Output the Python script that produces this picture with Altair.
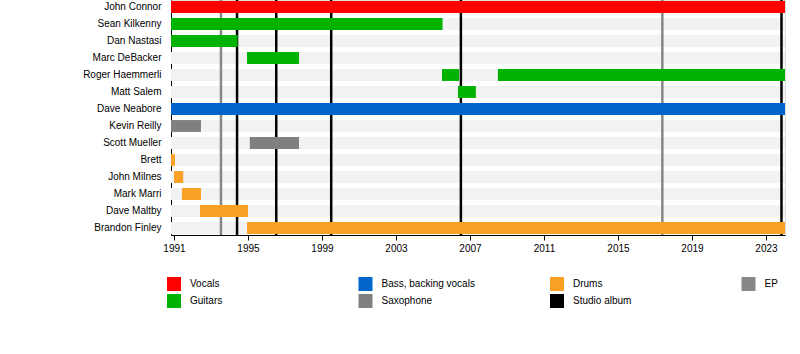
import altair as alt
import pandas as pd

# ---- data ----
members = ["John Connor", "Sean Kilkenny", "Dan Nastasi", "Marc DeBacker",
           "Roger Haemmerli", "Matt Salem", "Dave Neabore", "Kevin Reilly",
           "Scott Mueller", "Brett", "John Milnes", "Mark Marri",
           "Dave Maltby", "Brandon Finley"]

x_start, x_end = 1990.84, 2024.03

seg_member = ["John Connor", "Sean Kilkenny", "Dan Nastasi", "Marc DeBacker",
              "Roger Haemmerli", "Roger Haemmerli", "Matt Salem", "Dave Neabore",
              "Kevin Reilly", "Scott Mueller", "Brett", "John Milnes",
              "Mark Marri", "Dave Maltby", "Brandon Finley"]
seg_start = [1990.84, 1990.84, 1990.84, 1994.95, 2005.49, 2008.51, 2006.35,
             1990.84, 1990.84, 1995.10, 1990.84, 1991.00, 1991.43, 1992.41, 1994.95]
seg_end = [2024.03, 2005.52, 1994.44, 1997.76, 2006.41, 2024.03, 2007.32,
           2024.03, 1992.46, 1997.76, 1991.05, 1991.50, 1992.46, 1995.00, 2024.03]
seg_role = ["Vocals", "Guitars", "Guitars", "Guitars", "Guitars", "Guitars",
            "Guitars", "Bass, backing vocals", "Saxophone", "Saxophone",
            "Drums", "Drums", "Drums", "Drums", "Drums"]

event_year = [1993.54, 1994.41, 1996.53, 1999.50, 2006.51, 2017.40, 2023.84]
event_kind = ["EP", "Studio album", "Studio album", "Studio album",
              "Studio album", "EP", "Studio album"]

tick_years = list(range(1991, 2025))

legend_order = ["Vocals", "Guitars", "Bass, backing vocals", "Saxophone",
                "Drums", "Studio album", "EP"]
legend_colors = ["#ff0000", "#00b300", "#0066cc", "#808080",
                 "#faa025", "#000000", "#878787"]

# ---- tables ----
segs = pd.DataFrame({"member": seg_member, "start": seg_start,
                     "end": seg_end, "role": seg_role})
stripes = pd.DataFrame({"member": members, "start": x_start, "end": x_end})
events = pd.DataFrame({"year": event_year, "kind": event_kind})

FONT = "Liberation Sans"

xscale = alt.Scale(domain=[x_start, x_end], nice=False, zero=False)
yscale = alt.Scale(paddingInner=0.3, paddingOuter=0.06)

xaxis = alt.Axis(values=tick_years, title=None, grid=False,
                 labelExpr="datum.value % 4 == 3 ? datum.value : ''",
                 tickSize={"condition": {"test": "datum.value % 4 == 3", "value": 5}, "value": 3},
                 labelFlush=False, labelOverlap=False, labelPadding=3,
                 domainColor="black", tickColor="black", labelColor="black",
                 labelFont=FONT, labelFontSize=10)
yaxis = alt.Axis(title=None, ticks=False, tickSize=0, labelPadding=10,
                 domainColor="black", labelColor="black",
                 labelFont=FONT, labelFontSize=10, labelLimit=200)

stripe_layer = alt.Chart(stripes).mark_bar(color="#f2f2f2").encode(
    x=alt.X("start:Q", scale=xscale, axis=xaxis),
    x2="end:Q",
    y=alt.Y("member:N", sort=members, scale=yscale, axis=yaxis),
)

rule_layer = alt.Chart(events).mark_rule(strokeWidth=2.5).encode(
    x=alt.X("year:Q", scale=xscale),
    stroke=alt.Stroke("kind:N", scale=alt.Scale(domain=["EP", "Studio album"],
                                                range=["#878787", "#000000"]),
                      legend=None),
)

bar_layer = alt.Chart(segs).mark_bar().encode(
    x=alt.X("start:Q", scale=xscale),
    x2="end:Q",
    y=alt.Y("member:N", sort=members, scale=yscale),
    color=alt.Color("role:N",
                    scale=alt.Scale(domain=legend_order, range=legend_colors),
                    legend=alt.Legend(title=None, orient="none", legendX=-4,
                                      legendY=277, columns=4, gridAlign="all",
                                      symbolType="square", symbolSize=196,
                                      symbolStrokeWidth=0, symbolOpacity=1,
                                      labelFont=FONT, labelFontSize=10,
                                      labelColor="black", labelOffset=9,
                                      columnPadding=74.5, rowPadding=3)),
)

chart = alt.layer(stripe_layer, rule_layer, bar_layer).properties(
    width=614, height=235,
    padding={"left": 171, "top": 0, "right": 15, "bottom": 119},
    autosize="none",
).configure_view(strokeWidth=0).configure(background="white")

chart.save("out.html", embed_options={"renderer": "svg", "actions": False})
